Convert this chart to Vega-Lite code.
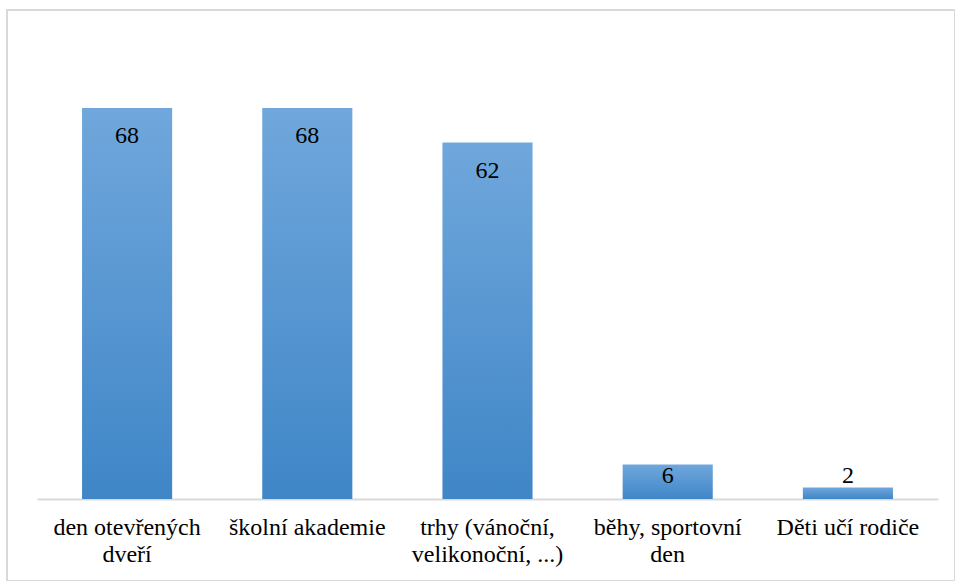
{
  "$schema": "https://vega.github.io/schema/vega-lite/v6.json",
  "width": 948,
  "height": 571,
  "autosize": {"type": "none"},
  "padding": {"left": 7, "top": 10, "right": 0, "bottom": 0},
  "background": "white",
  "config": {
    "view": {"stroke": "#d9d9d9", "strokeWidth": 2},
    "font": "'Liberation Serif', 'DejaVu Serif', serif"
  },
  "data": {
    "values": [
      {"aktivita": "den otevřených dveří", "pocet": 68},
      {"aktivita": "školní akademie", "pocet": 68},
      {"aktivita": "trhy (vánoční, velikonoční, ...)", "pocet": 62},
      {"aktivita": "běhy, sportovní den", "pocet": 6},
      {"aktivita": "Děti učí rodiče", "pocet": 2}
    ]
  },
  "encoding": {
    "x": {
      "field": "aktivita",
      "type": "nominal",
      "sort": null,
      "scale": {"range": [30, 931], "paddingInner": 0.5, "paddingOuter": 0.25},
      "axis": {
        "title": null,
        "offset": -82,
        "ticks": false,
        "domainColor": "#d9d9d9",
        "domainWidth": 2,
        "labelAngle": 0,
        "labelFont": "'Liberation Serif', 'DejaVu Serif', serif",
        "labelFontSize": 24,
        "labelColor": "#000000",
        "labelPadding": 16,
        "labelLineHeight": 27,
        "labelLimit": 0,
        "labelExpr": "datum.label == 'den otevřených dveří' ? ['den otevřených', 'dveří'] : datum.label == 'trhy (vánoční, velikonoční, ...)' ? ['trhy (vánoční,', 'velikonoční, ...)'] : datum.label == 'běhy, sportovní den' ? ['běhy, sportovní', 'den'] : datum.label"
      }
    }
  },
  "layer": [
    {
      "mark": {
        "type": "bar",
        "color": {
          "gradient": "linear",
          "x1": 0, "y1": 0, "x2": 0, "y2": 1,
          "stops": [
            {"offset": 0, "color": "#70a7dc"},
            {"offset": 1, "color": "#3f86c7"}
          ]
        }
      },
      "encoding": {
        "y": {
          "field": "pocet",
          "type": "quantitative",
          "scale": {"domain": [0, 80], "range": [489, 29]},
          "axis": null
        }
      }
    },
    {
      "transform": [{"filter": "datum.pocet >= 10"}],
      "mark": {"type": "text", "baseline": "alphabetic", "dy": 35, "fontSize": 24, "font": "'Liberation Serif', 'DejaVu Serif', serif", "color": "#000000"},
      "encoding": {
        "y": {"field": "pocet", "type": "quantitative", "scale": {"domain": [0, 80], "range": [489, 29]}},
        "text": {"field": "pocet", "type": "quantitative"}
      }
    },
    {
      "transform": [{"filter": "datum.pocet < 10"}],
      "mark": {"type": "text", "baseline": "alphabetic", "dy": -16, "fontSize": 24, "font": "'Liberation Serif', 'DejaVu Serif', serif", "color": "#000000"},
      "encoding": {
        "y": {"datum": 0, "type": "quantitative", "scale": {"domain": [0, 80], "range": [489, 29]}},
        "text": {"field": "pocet", "type": "quantitative"}
      }
    }
  ]
}
